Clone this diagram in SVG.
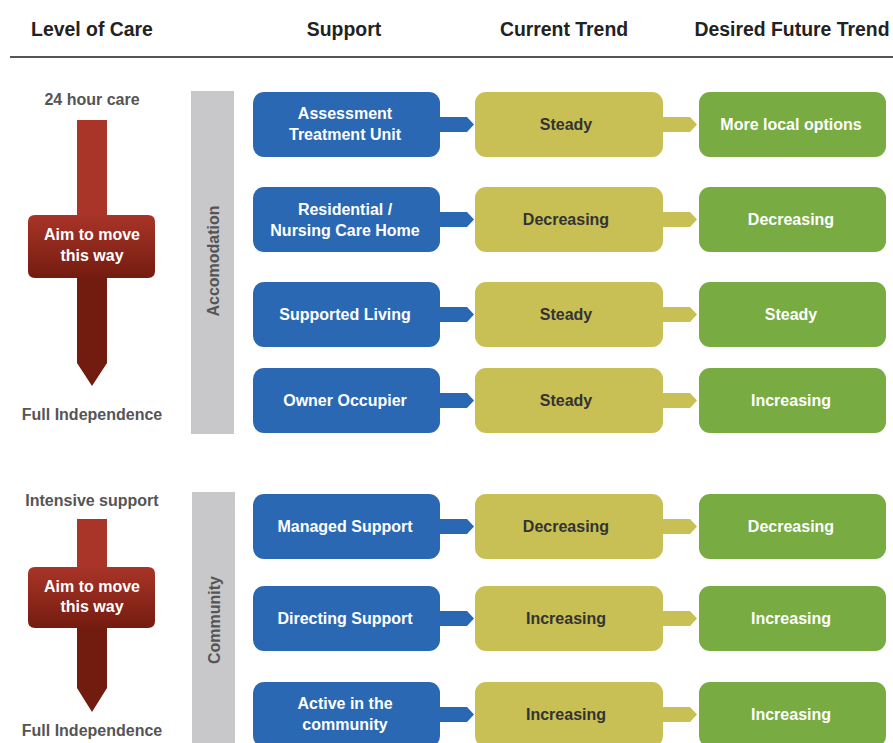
<svg xmlns="http://www.w3.org/2000/svg" width="893" height="743" viewBox="0 0 893 743">
<defs>
<linearGradient id="red1" gradientUnits="userSpaceOnUse" x1="0" y1="215" x2="0" y2="280"><stop offset="0" stop-color="#a93428"/><stop offset="1" stop-color="#721b0f"/></linearGradient>
<linearGradient id="red2" gradientUnits="userSpaceOnUse" x1="0" y1="567" x2="0" y2="630"><stop offset="0" stop-color="#a93428"/><stop offset="1" stop-color="#721b0f"/></linearGradient>
<style>
text{font-family:"Liberation Sans",Arial,sans-serif;font-weight:bold;text-anchor:middle}
.hd{font-size:19.4px;fill:#222}
.side{font-size:16px;fill:#555}
.w{font-size:16px;fill:#fff}
.d{font-size:16px;fill:#333}
.blue{fill:#2b68b3}
.olive{fill:#c8bf55}
.green{fill:#78ab41}
.bar{fill:#c8c8ca}
</style>
</defs>
<rect width="893" height="743" fill="#fff"/>
<g id="header">
<text class="hd" x="92" y="36">Level of Care</text>
<text class="hd" x="344" y="36">Support</text>
<text class="hd" x="564" y="36">Current Trend</text>
<text class="hd" x="792" y="36">Desired Future Trend</text>
<line x1="10" y1="57" x2="893" y2="57" stroke="#555" stroke-width="2"/>
</g>
<g id="level1">
<text class="side" x="92" y="105">24 hour care</text>
<path d="M77,120 H107 V215 H148 Q155,215 155,222 V271 Q155,278 148,278 H107 V363 L92,386 L77,363 V278 H35 Q28,278 28,271 V222 Q28,215 35,215 H77 Z" fill="url(#red1)"/>
<text class="w" x="92" y="240">Aim to move</text>
<text class="w" x="92" y="261">this way</text>
<text class="side" x="92" y="420">Full Independence</text>
</g>
<g id="accomodation">
<rect class="bar" x="191" y="91" width="43" height="343"/>
<text class="side" transform="translate(219,261) rotate(-90)" x="0" y="0">Accomodation</text>
</g>
<g id="level2">
<text class="side" x="92" y="506">Intensive support</text>
<path d="M77,519 H107 V567 H148 Q155,567 155,574 V621 Q155,628 148,628 H107 V688 L92,712 L77,688 V628 H35 Q28,628 28,621 V574 Q28,567 35,567 H77 Z" fill="url(#red2)"/>
<text class="w" x="92" y="592">Aim to move</text>
<text class="w" x="92" y="612">this way</text>
<text class="side" x="92" y="736">Full Independence</text>
</g>
<g id="community">
<rect class="bar" x="192" y="492" width="43" height="260"/>
<text class="side" transform="translate(220,620) rotate(-90)" x="0" y="0">Community</text>
</g>
<g id="connectors">
<g class="blue">
<polygon points="438,117 467,117 474,124.5 467,132 438,132"/>
<polygon points="438,212 467,212 474,219.5 467,227 438,227"/>
<polygon points="438,307 467,307 474,314.5 467,322 438,322"/>
<polygon points="438,393 467,393 474,400.5 467,408 438,408"/>
<polygon points="438,519 467,519 474,526.5 467,534 438,534"/>
<polygon points="438,611 467,611 474,618.5 467,626 438,626"/>
<polygon points="438,707 467,707 474,714.5 467,722 438,722"/>
</g>
<g class="olive">
<polygon points="661,117 690,117 697,124.5 690,132 661,132"/>
<polygon points="661,212 690,212 697,219.5 690,227 661,227"/>
<polygon points="661,307 690,307 697,314.5 690,322 661,322"/>
<polygon points="661,393 690,393 697,400.5 690,408 661,408"/>
<polygon points="661,519 690,519 697,526.5 690,534 661,534"/>
<polygon points="661,611 690,611 697,618.5 690,626 661,626"/>
<polygon points="661,707 690,707 697,714.5 690,722 661,722"/>
</g>
</g>
<g id="row1">
<g id="s1"><rect class="blue" x="253" y="92" width="187" height="65" rx="11"/><text class="w" x="345" y="119">Assessment</text><text class="w" x="345" y="140">Treatment Unit</text></g>
<g id="c1"><rect class="olive" x="475" y="92" width="188" height="65" rx="11"/><text class="d" x="566" y="130">Steady</text></g>
<g id="f1"><rect class="green" x="699" y="92" width="187" height="65" rx="11"/><text class="w" x="791" y="130">More local options</text></g>
</g>
<g id="row2">
<g id="s2"><rect class="blue" x="253" y="187" width="187" height="65" rx="11"/><text class="w" x="345" y="215">Residential /</text><text class="w" x="345" y="236">Nursing Care Home</text></g>
<g id="c2"><rect class="olive" x="475" y="187" width="188" height="65" rx="11"/><text class="d" x="566" y="225">Decreasing</text></g>
<g id="f2"><rect class="green" x="699" y="187" width="187" height="65" rx="11"/><text class="w" x="791" y="225">Decreasing</text></g>
</g>
<g id="row3">
<g id="s3"><rect class="blue" x="253" y="282" width="187" height="65" rx="11"/><text class="w" x="345" y="320">Supported Living</text></g>
<g id="c3"><rect class="olive" x="475" y="282" width="188" height="65" rx="11"/><text class="d" x="566" y="320">Steady</text></g>
<g id="f3"><rect class="green" x="699" y="282" width="187" height="65" rx="11"/><text class="w" x="791" y="320">Steady</text></g>
</g>
<g id="row4">
<g id="s4"><rect class="blue" x="253" y="368" width="187" height="65" rx="11"/><text class="w" x="345" y="406">Owner Occupier</text></g>
<g id="c4"><rect class="olive" x="475" y="368" width="188" height="65" rx="11"/><text class="d" x="566" y="406">Steady</text></g>
<g id="f4"><rect class="green" x="699" y="368" width="187" height="65" rx="11"/><text class="w" x="791" y="406">Increasing</text></g>
</g>
<g id="row5">
<g id="s5"><rect class="blue" x="253" y="494" width="187" height="65" rx="11"/><text class="w" x="345" y="532">Managed Support</text></g>
<g id="c5"><rect class="olive" x="475" y="494" width="188" height="65" rx="11"/><text class="d" x="566" y="532">Decreasing</text></g>
<g id="f5"><rect class="green" x="699" y="494" width="187" height="65" rx="11"/><text class="w" x="791" y="532">Decreasing</text></g>
</g>
<g id="row6">
<g id="s6"><rect class="blue" x="253" y="586" width="187" height="65" rx="11"/><text class="w" x="345" y="624">Directing Support</text></g>
<g id="c6"><rect class="olive" x="475" y="586" width="188" height="65" rx="11"/><text class="d" x="566" y="624">Increasing</text></g>
<g id="f6"><rect class="green" x="699" y="586" width="187" height="65" rx="11"/><text class="w" x="791" y="624">Increasing</text></g>
</g>
<g id="row7">
<g id="s7"><rect class="blue" x="253" y="682" width="187" height="65" rx="11"/><text class="w" x="345" y="709">Active in the</text><text class="w" x="345" y="730">community</text></g>
<g id="c7"><rect class="olive" x="475" y="682" width="188" height="65" rx="11"/><text class="d" x="566" y="720">Increasing</text></g>
<g id="f7"><rect class="green" x="699" y="682" width="187" height="65" rx="11"/><text class="w" x="791" y="720">Increasing</text></g>
</g>
</svg>
